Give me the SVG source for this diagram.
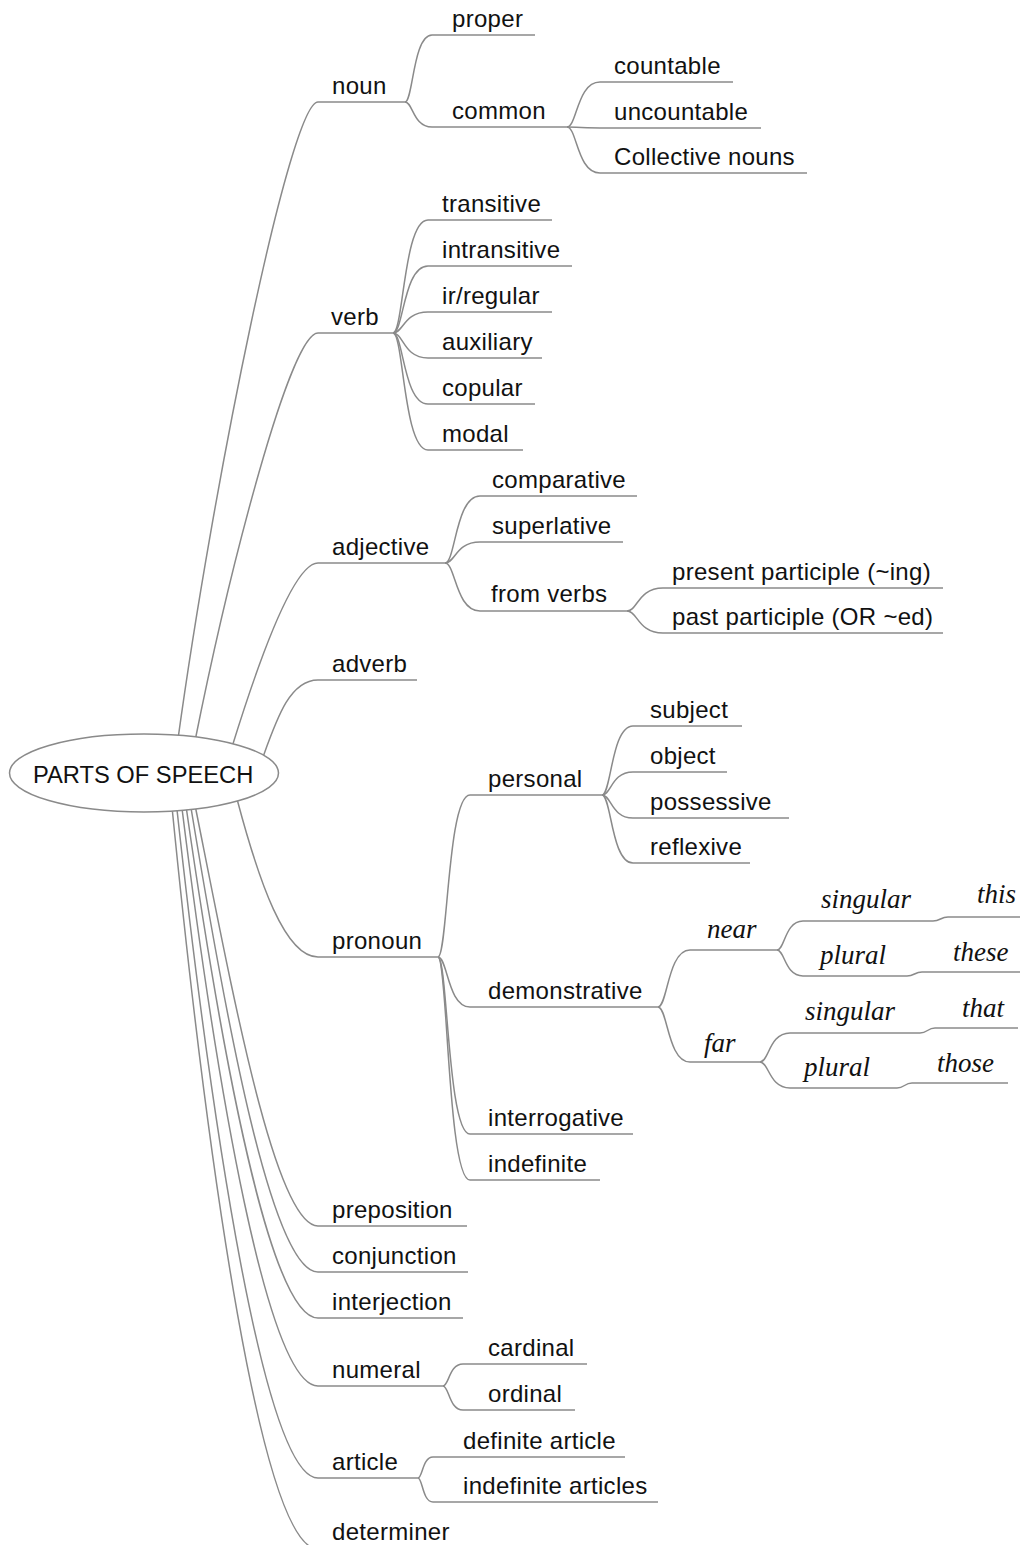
<svg xmlns="http://www.w3.org/2000/svg" width="1020" height="1545" viewBox="0 0 1020 1545">
<style>
.t{font-family:"Liberation Sans",Arial,sans-serif;font-size:24px;letter-spacing:0.3px;fill:#111}
.r{font-family:"Liberation Sans",Arial,sans-serif;font-size:23.7px;fill:#111}
.i{font-family:"Liberation Serif","Times New Roman",serif;font-style:italic;font-size:27px;fill:#111}
.u,.c{stroke:#8a8a8a;stroke-width:1.5;fill:none}
</style>
<rect width="1020" height="1545" fill="#fff"/>
<g id="connectors">
<path class="c" d="M178,739 C213,485 290,102 318,102"/>
<path class="c" d="M195,741 C229,571 290,333 318,333"/>
<path class="c" d="M232,747 C262,650 295,563 318,563"/>
<path class="c" d="M263,757 C277,718 290,680 318,680"/>
<path class="c" d="M237,799 C259,882 285,957 318,957"/>
<path class="c" d="M195,805 C232,990 275,1226 318,1226"/>
<path class="c" d="M190.7,806 C226,1020 272,1272 318,1272"/>
<path class="c" d="M186,806 C221,1050 270,1318 318,1318"/>
<path class="c" d="M181.7,806 C217,1090 268,1386 318,1386"/>
<path class="c" d="M176.7,807 C212,1130 265,1478 318,1478"/>
<path class="c" d="M172,807 C208,1170 262,1549 318,1549"/>
<path class="c" d="M405,102 C413,102 413,35 432,35"/>
<path class="c" d="M405,102 C413,102 413,127 432,127"/>
<path class="c" d="M567,127 C577,127 577,82 600,82"/>
<path class="c" d="M567,127 C577,127 577,128 600,128"/>
<path class="c" d="M567,127 C577,127 577,173 600,173"/>
<path class="c" d="M393,333 C403.5,333 403.5,220 428,220"/>
<path class="c" d="M393,333 C403.5,333 403.5,266 428,266"/>
<path class="c" d="M393,333 C403.5,333 403.5,312 428,312"/>
<path class="c" d="M393,333 C403.5,333 403.5,358 428,358"/>
<path class="c" d="M393,333 C403.5,333 403.5,404 428,404"/>
<path class="c" d="M393,333 C403.5,333 403.5,450 428,450"/>
<path class="c" d="M445,563 C455.5,563 455.5,496 480,496"/>
<path class="c" d="M445,563 C455.5,563 455.5,542 480,542"/>
<path class="c" d="M445,563 C455.5,563 455.5,611 480,611"/>
<path class="c" d="M627,611 C637.8,611 637.8,588 663,588"/>
<path class="c" d="M627,611 C637.8,611 637.8,633 663,633"/>
<path class="c" d="M438,957 C447.6,957 447.6,795 470,795"/>
<path class="c" d="M438,957 C447.6,957 447.6,1007 470,1007"/>
<path class="c" d="M438,957 C447.6,957 447.6,1134 470,1134"/>
<path class="c" d="M438,957 C447.6,957 447.6,1180 470,1180"/>
<path class="c" d="M602,795 C611.3,795 611.3,726 633,726"/>
<path class="c" d="M602,795 C611.3,795 611.3,772 633,772"/>
<path class="c" d="M602,795 C611.3,795 611.3,818 633,818"/>
<path class="c" d="M602,795 C611.3,795 611.3,863 633,863"/>
<path class="c" d="M658,1007 C667.6,1007 667.6,950 690,950"/>
<path class="c" d="M658,1007 C667.6,1007 667.6,1062 690,1062"/>
<path class="c" d="M777,950 C784.8,950 784.8,921 803,921"/>
<path class="c" d="M777,950 C784.8,950 784.8,976 803,976"/>
<path class="c" d="M760,1062 C769,1062 769,1033 790,1033"/>
<path class="c" d="M760,1062 C769,1062 769,1088 790,1088"/>
<path class="c" d="M933,921 C940.5,921 940.5,917 948,917"/>
<path class="c" d="M907,976 C914.5,976 914.5,972 922,972"/>
<path class="c" d="M920,1033 C927.5,1033 927.5,1028 935,1028"/>
<path class="c" d="M897,1088 C904.5,1088 904.5,1083 912,1083"/>
<path class="c" d="M443,1386 C449,1386 449,1364 463,1364"/>
<path class="c" d="M443,1386 C449,1386 449,1410 463,1410"/>
<path class="c" d="M418,1478 C422.5,1478 422.5,1457 433,1457"/>
<path class="c" d="M418,1478 C422.5,1478 422.5,1502 433,1502"/>
</g>
<g id="root">
<ellipse cx="144" cy="773" rx="134.5" ry="39" fill="#fff" stroke="#8a8a8a" stroke-width="1.5"/>
<text class="r" x="33" y="783">PARTS OF SPEECH</text>
</g>
<g id="noun"><line class="u" x1="318" y1="102" x2="405" y2="102"/><text class="t" x="332" y="94">noun</text></g>
<g id="proper"><line class="u" x1="432" y1="35" x2="535" y2="35"/><text class="t" x="452" y="27">proper</text></g>
<g id="common"><line class="u" x1="432" y1="127" x2="567" y2="127"/><text class="t" x="452" y="119">common</text></g>
<g id="countable"><line class="u" x1="600" y1="82" x2="733" y2="82"/><text class="t" x="614" y="74">countable</text></g>
<g id="uncountable"><line class="u" x1="600" y1="128" x2="761" y2="128"/><text class="t" x="614" y="120">uncountable</text></g>
<g id="collective"><line class="u" x1="600" y1="173" x2="807" y2="173"/><text class="t" x="614" y="165">Collective nouns</text></g>
<g id="verb"><line class="u" x1="318" y1="333" x2="393" y2="333"/><text class="t" x="331" y="325">verb</text></g>
<g id="transitive"><line class="u" x1="428" y1="220" x2="552" y2="220"/><text class="t" x="442" y="212">transitive</text></g>
<g id="intransitive"><line class="u" x1="428" y1="266" x2="572" y2="266"/><text class="t" x="442" y="258">intransitive</text></g>
<g id="irregular"><line class="u" x1="428" y1="312" x2="552" y2="312"/><text class="t" x="442" y="304">ir/regular</text></g>
<g id="auxiliary"><line class="u" x1="428" y1="358" x2="542" y2="358"/><text class="t" x="442" y="350">auxiliary</text></g>
<g id="copular"><line class="u" x1="428" y1="404" x2="535" y2="404"/><text class="t" x="442" y="396">copular</text></g>
<g id="modal"><line class="u" x1="428" y1="450" x2="523" y2="450"/><text class="t" x="442" y="442">modal</text></g>
<g id="adjective"><line class="u" x1="318" y1="563" x2="445" y2="563"/><text class="t" x="332" y="555">adjective</text></g>
<g id="comparative"><line class="u" x1="480" y1="496" x2="637" y2="496"/><text class="t" x="492" y="488">comparative</text></g>
<g id="superlative"><line class="u" x1="480" y1="542" x2="623" y2="542"/><text class="t" x="492" y="534">superlative</text></g>
<g id="fromverbs"><line class="u" x1="480" y1="611" x2="627" y2="611"/><text class="t" x="491" y="602">from verbs</text></g>
<g id="present"><line class="u" x1="663" y1="588" x2="943" y2="588"/><text class="t" x="672" y="580">present participle (~ing)</text></g>
<g id="past"><line class="u" x1="663" y1="633" x2="943" y2="633"/><text class="t" x="672" y="625">past participle (OR ~ed)</text></g>
<g id="adverb"><line class="u" x1="318" y1="680" x2="417" y2="680"/><text class="t" x="332" y="672">adverb</text></g>
<g id="pronoun"><line class="u" x1="318" y1="957" x2="438" y2="957"/><text class="t" x="332" y="949">pronoun</text></g>
<g id="personal"><line class="u" x1="470" y1="795" x2="602" y2="795"/><text class="t" x="488" y="787">personal</text></g>
<g id="subject"><line class="u" x1="633" y1="726" x2="742" y2="726"/><text class="t" x="650" y="718">subject</text></g>
<g id="object"><line class="u" x1="633" y1="772" x2="727" y2="772"/><text class="t" x="650" y="764">object</text></g>
<g id="possessive"><line class="u" x1="633" y1="818" x2="789" y2="818"/><text class="t" x="650" y="810">possessive</text></g>
<g id="reflexive"><line class="u" x1="633" y1="863" x2="750" y2="863"/><text class="t" x="650" y="855">reflexive</text></g>
<g id="demonstrative"><line class="u" x1="470" y1="1007" x2="658" y2="1007"/><text class="t" x="488" y="999">demonstrative</text></g>
<g id="near"><line class="u" x1="690" y1="950" x2="777" y2="950"/><text class="i" x="707" y="938">near</text></g>
<g id="near-singular"><line class="u" x1="803" y1="921" x2="933" y2="921"/><text class="i" x="821" y="908">singular</text></g>
<g id="this"><line class="u" x1="948" y1="917" x2="1025" y2="917"/><text class="i" x="977" y="903">this</text></g>
<g id="near-plural"><line class="u" x1="803" y1="976" x2="907" y2="976"/><text class="i" x="820" y="964">plural</text></g>
<g id="these"><line class="u" x1="922" y1="972" x2="1025" y2="972"/><text class="i" x="953" y="961">these</text></g>
<g id="far"><line class="u" x1="690" y1="1062" x2="760" y2="1062"/><text class="i" x="704" y="1052">far</text></g>
<g id="far-singular"><line class="u" x1="790" y1="1033" x2="920" y2="1033"/><text class="i" x="805" y="1020">singular</text></g>
<g id="that"><line class="u" x1="935" y1="1028" x2="1018" y2="1028"/><text class="i" x="962" y="1017">that</text></g>
<g id="far-plural"><line class="u" x1="790" y1="1088" x2="897" y2="1088"/><text class="i" x="804" y="1076">plural</text></g>
<g id="those"><line class="u" x1="912" y1="1083" x2="1008" y2="1083"/><text class="i" x="937" y="1072">those</text></g>
<g id="interrogative"><line class="u" x1="470" y1="1134" x2="633" y2="1134"/><text class="t" x="488" y="1126">interrogative</text></g>
<g id="indefinite"><line class="u" x1="470" y1="1180" x2="600" y2="1180"/><text class="t" x="488" y="1172">indefinite</text></g>
<g id="preposition"><line class="u" x1="318" y1="1226" x2="467" y2="1226"/><text class="t" x="332" y="1218">preposition</text></g>
<g id="conjunction"><line class="u" x1="318" y1="1272" x2="468" y2="1272"/><text class="t" x="332" y="1264">conjunction</text></g>
<g id="interjection"><line class="u" x1="318" y1="1318" x2="463" y2="1318"/><text class="t" x="332" y="1310">interjection</text></g>
<g id="numeral"><line class="u" x1="318" y1="1386" x2="443" y2="1386"/><text class="t" x="332" y="1378">numeral</text></g>
<g id="cardinal"><line class="u" x1="463" y1="1364" x2="587" y2="1364"/><text class="t" x="488" y="1356">cardinal</text></g>
<g id="ordinal"><line class="u" x1="463" y1="1410" x2="575" y2="1410"/><text class="t" x="488" y="1402">ordinal</text></g>
<g id="article"><line class="u" x1="318" y1="1478" x2="418" y2="1478"/><text class="t" x="332" y="1470">article</text></g>
<g id="definite-article"><line class="u" x1="433" y1="1457" x2="625" y2="1457"/><text class="t" x="463" y="1449">definite article</text></g>
<g id="indefinite-articles"><line class="u" x1="433" y1="1502" x2="658" y2="1502"/><text class="t" x="463" y="1494">indefinite articles</text></g>
<g id="determiner"><line class="u" x1="318" y1="1549" x2="450" y2="1549"/><text class="t" x="332" y="1540">determiner</text></g>
</svg>
